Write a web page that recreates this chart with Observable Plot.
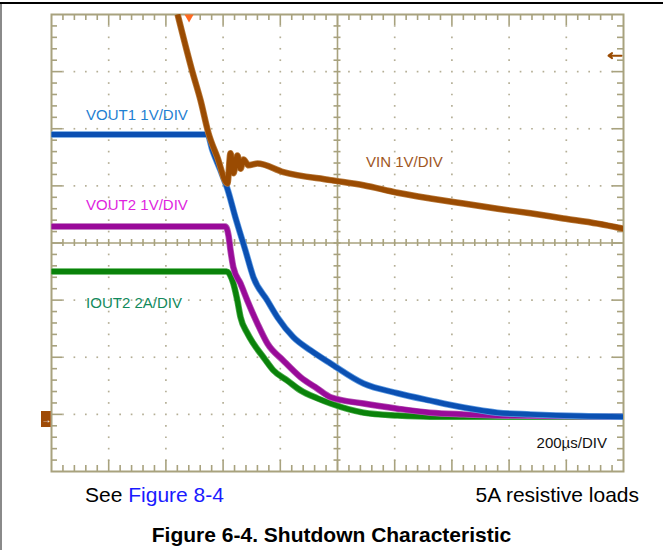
<!DOCTYPE html>
<html>
<head>
<meta charset="utf-8">
<script src="https://cdn.jsdelivr.net/npm/d3@7"></script>
<script src="https://cdn.jsdelivr.net/npm/@observablehq/plot@0.6"></script>
<style>
  body { margin: 0; background: #fff; }
  #wrap { position: relative; width: 663px; height: 550px; overflow: hidden; background: #fff; font-family: "Liberation Sans", Arial, sans-serif; }
  #topline { position: absolute; left: 0; top: 2px; width: 663px; height: 2px; background: #000; }
  #leftline { position: absolute; left: 0; top: 4px; width: 2px; height: 546px; background: #8a8a8a; }
  #chart { position: absolute; left: 0; top: 0; }
  .cap { position: absolute; font-size: 21px; line-height: 21px; white-space: nowrap; color: #000; }
</style>
</head>
<body>
<div id="wrap">
  <div id="topline"></div>
  <div id="leftline"></div>
  <div id="chart"></div>
  <div class="cap" style="left:85px; top:484px;">See <span style="color:#1a1aff">Figure 8-4</span></div>
  <div class="cap" style="right:24px; top:484px;">5A resistive loads</div>
  <div class="cap" style="left:0; width:663px; text-align:center; top:524px; font-weight:bold;">Figure 6-4. Shutdown Characteristic</div>
</div>
<script>
// ---- Data read from the scope capture (time in µs, 200 µs/div; level in divisions, 0 = bottom) ----
const vout1Time = [0, 545, 563, 591, 615, 643, 678, 706, 755, 790, 846, 906, 976, 1091, 1210, 1325, 1441, 1560, 1675, 1850, 2000];
const vout1Div  = [5.90, 5.90, 5.62, 5.27, 4.95, 4.45, 3.87, 3.40, 2.99, 2.70, 2.35, 2.12, 1.89, 1.54, 1.37, 1.24, 1.12, 1.03, 1.00, 0.97, 0.96];

const vinTime = [441, 493, 521, 549, 580, 615, 626, 636, 650, 661, 671, 689, 720, 811, 976, 1091, 1210, 1325, 1441, 1560, 1675, 1790, 1909, 2000];
const vinDiv  = [8.00, 6.99, 6.50, 5.92, 5.50, 5.04, 5.57, 5.22, 5.53, 5.30, 5.46, 5.36, 5.39, 5.24, 5.10, 5.01, 4.88, 4.78, 4.69, 4.60, 4.52, 4.43, 4.34, 4.25];

const vout2Time = [0, 608, 619, 626, 636, 661, 685, 720, 755, 811, 871, 930, 976, 1091, 1210, 1325, 1441, 1560, 2000];
const vout2Div  = [4.29, 4.29, 4.13, 3.87, 3.57, 3.29, 2.99, 2.59, 2.24, 1.94, 1.65, 1.45, 1.30, 1.19, 1.10, 1.03, 1.00, 0.98, 0.96];

const iout2Time = [0, 612, 636, 650, 661, 685, 706, 741, 776, 825, 871, 930, 976, 1091, 1210, 1325, 2000];
const iout2Div  = [3.50, 3.50, 3.29, 2.99, 2.70, 2.42, 2.24, 2.00, 1.77, 1.59, 1.42, 1.28, 1.19, 1.03, 0.98, 0.96, 0.96];

// Channel labels
const labelText  = ["VOUT1 1V/DIV", "VOUT2 1V/DIV", "VIN 1V/DIV", "IOUT2 2A/DIV", "200µs/DIV"];
const labelTime  = [121, 121, 1100, 121, 1696];
const labelDiv   = [6.16, 4.57, 5.33, 2.87, 0.415];
const labelColor = ["#1f7fd2", "#e01fe0", "#a0561e", "#118a5c", "#111111"];

// Scope markers
const triggerTime = [481];
const groundLevel = [0.91];
const offscreenArrowDiv = [7.28];

// ---- build ----
const zip = (t, v) => t.map((x, i) => ({t: x, v: v[i]}));
const vout1 = zip(vout1Time, vout1Div);
const vin = zip(vinTime, vinDiv);
const vout2 = zip(vout2Time, vout2Div);
const iout2 = zip(iout2Time, iout2Div);
const labels = labelText.map((s, i) => ({s, t: labelTime[i], v: labelDiv[i], c: labelColor[i]}));

const W = 663, H = 490, mL = 51, mR = 40, mT = 14, mB = 19;
const kx = 2000 / (W - mL - mR);   // µs per pixel
const ky = 8 / (H - mT - mB);      // div per pixel
const gridC = "#a8a27e", dotC = "#b4ae95";

const xTicks = d3.range(1, 50).map(i => ({t: i * 40, len: i % 5 === 0 ? 11 : 6}));
const yTicks = d3.range(1, 40).map(i => ({v: i * 0.2, len: i % 5 === 0 ? 11 : 6}));
const dots = [];
for (let i = 1; i <= 9; i++) if (i !== 5) for (let j = 1; j < 40; j++) dots.push({t: i * 200, v: j * 0.2});
for (let k = 1; k <= 7; k++) if (k !== 4) for (let i = 1; i < 50; i++) if (i % 5 !== 0) dots.push({t: i * 40, v: k});

const traceStyle = {x: "t", y: "v", strokeWidth: 5, strokeLinejoin: "round", strokeLinecap: "butt", curve: "monotone-x", clip: true};
const tickStyle = {stroke: gridC, strokeWidth: 1.6};

const plot = Plot.plot({
  width: W, height: H,
  marginLeft: mL, marginRight: mR, marginTop: mT, marginBottom: mB,
  x: {domain: [0, 2000], axis: null},
  y: {domain: [0, 8], axis: null},
  style: {background: "transparent", overflow: "visible", fontFamily: "Liberation Sans, Arial, sans-serif"},
  marks: [
    Plot.dot(dots, {x: "t", y: "v", symbol: "square", r: 0.95, fill: dotC, stroke: null}),
    Plot.ruleX([1000], tickStyle),
    Plot.ruleY([4], tickStyle),
    Plot.ruleX(xTicks, {x: "t", y1: 8, y2: d => 8 - d.len * ky, ...tickStyle}),
    Plot.ruleX(xTicks, {x: "t", y1: 0, y2: d => d.len * ky, ...tickStyle}),
    Plot.ruleX(xTicks, {x: "t", y1: 4 - 3.5 * ky, y2: 4 + 3.5 * ky, ...tickStyle}),
    Plot.ruleY(yTicks, {y: "v", x1: 0, x2: d => d.len * kx, ...tickStyle}),
    Plot.ruleY(yTicks, {y: "v", x1: 2000, x2: d => 2000 - d.len * kx, ...tickStyle}),
    Plot.ruleY(yTicks, {y: "v", x1: 1000 - 3.5 * kx, x2: 1000 + 3.5 * kx, ...tickStyle}),
    Plot.frame({stroke: gridC, strokeWidth: 2}),
    // traces
    Plot.line(iout2, {...traceStyle, stroke: "#4fae4f", strokeWidth: 6.5}),
    Plot.line(iout2, {...traceStyle, stroke: "#0a820a"}),
    Plot.line(vout2, {...traceStyle, stroke: "#b45ab4", strokeWidth: 6.5}),
    Plot.line(vout2, {...traceStyle, stroke: "#990a99"}),
    Plot.line(vout1, {...traceStyle, stroke: "#5f9be0", strokeWidth: 6.5}),
    Plot.line(vout1, {...traceStyle, stroke: "#0b50b2"}),
    Plot.line(vin, {...traceStyle, stroke: "#b87a3c", strokeWidth: 6.5}),
    Plot.line(vin, {...traceStyle, stroke: "#9a4b02", strokeWidth: 5}),
    // labels
    Plot.text(labels, {x: "t", y: "v", text: "s", fill: "c", textAnchor: "start", lineAnchor: "bottom", fontSize: 15}),
    // trigger marker
    Plot.dot(triggerTime, {x: d => d, y: 8, symbol: "triangle", rotate: 180, r: 3.4, fill: "#ff6a22", stroke: null, dy: 2.6}),
    // ground marker for VIN channel
    Plot.rect(groundLevel, {x1: -10 * kx, x2: -0.3 * kx, y1: d => d - 8 * ky, y2: d => d + 8 * ky, fill: "#9e4a06"}),
    Plot.text(groundLevel, {x: -5 * kx, y: d => d, text: () => "→", fill: "#fff", fontSize: 10, fontWeight: "bold"}),
    // off-screen arrow on right
    Plot.arrow(offscreenArrowDiv, {x1: 2000 - 2 * kx, x2: 2000 - 15 * kx, y1: d => d, y2: d => d, stroke: "#9a4b02", strokeWidth: 2, headLength: 7, headAngle: 70})
  ]
});
document.getElementById("chart").appendChild(plot);
</script>
</body>
</html>
